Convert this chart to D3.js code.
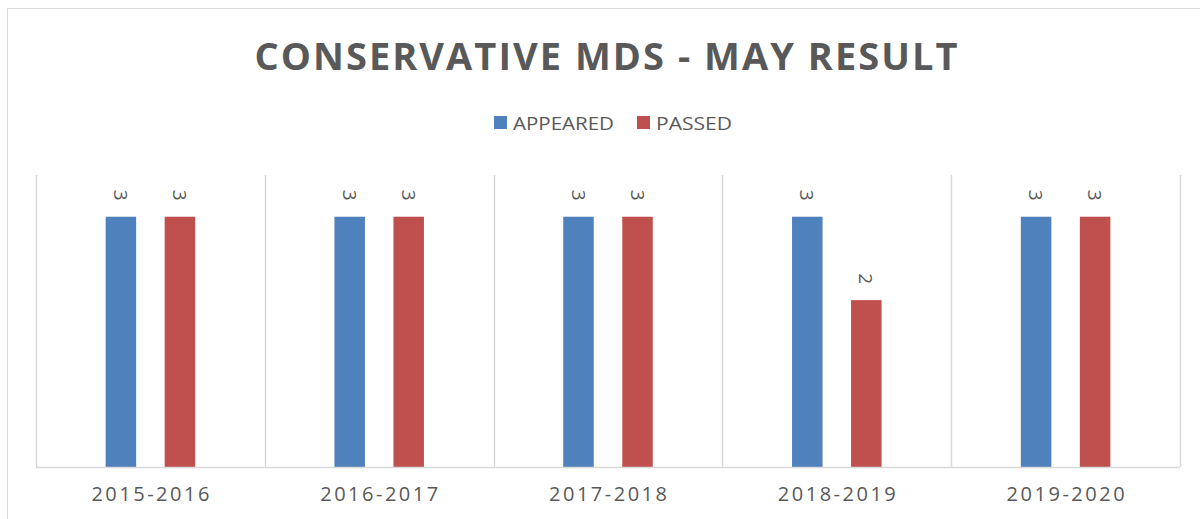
<!DOCTYPE html>
<html>
<head>
<meta charset="utf-8">
<script src="https://cdn.jsdelivr.net/npm/d3@7"></script>
<style>
  body { margin: 0; background: #fff; }
  text { font-family: "Open Sans", sans-serif; fill: #595959; }
</style>
</head>
<body>
<div id="chart"></div>
<script>
// data
var years = ["2015-2016", "2016-2017", "2017-2018", "2018-2019", "2019-2020"];
var series = ["APPEARED", "PASSED"];
var appeared = [3, 3, 3, 3, 3];
var passed = [3, 3, 3, 2, 3];
var colors = ["#4f81bd", "#c0504d"];

var svgWidth = 1200;
var svgHeight = 519;

var plot = { left: 36, right: 1180, top: 175, bottom: 467 };

var svg = d3.select("#chart")
    .append("svg")
    .attr("width", svgWidth)
    .attr("height", svgHeight);

// outer chart border (runs off the right and bottom)
svg.append("rect")
    .attr("x", 7.5)
    .attr("y", 8.5)
    .attr("width", 1300)
    .attr("height", 600)
    .attr("fill", "none")
    .attr("stroke", "#d9d9d9");

var xScale = d3.scaleBand()
    .domain(years)
    .range([plot.left, plot.right])
    .paddingInner(0)
    .paddingOuter(0);

var xInner = d3.scaleBand()
    .domain(series)
    .range([0, xScale.bandwidth()])
    .paddingInner(0.483)
    .paddingOuter(1.18);

var yScale = d3.scaleLinear()
    .domain([0, 3.5])
    .range([plot.bottom, plot.top]);

// vertical separators between categories
var edges = years.map(function (d) { return xScale(d); }).concat([plot.right]);
svg.append("g")
    .selectAll("line")
    .data(edges)
    .enter().append("line")
    .attr("x1", function (d) { return Math.round(d) + 0.5; })
    .attr("x2", function (d) { return Math.round(d) + 0.5; })
    .attr("y1", plot.top)
    .attr("y2", plot.bottom)
    .attr("stroke", "#d9d9d9")
    .attr("stroke-width", 1.5);

// bars
var rows = years.map(function (y, i) {
    return { year: y, values: [appeared[i], passed[i]] };
});

var groups = svg.append("g")
    .selectAll("g")
    .data(rows)
    .enter().append("g")
    .attr("transform", function (d) { return "translate(" + xScale(d.year) + ",0)"; });

groups.selectAll("rect")
    .data(function (d) { return d.values.map(function (v, j) { return { s: series[j], v: v, j: j }; }); })
    .enter().append("rect")
    .attr("x", function (d) { return xInner(d.s); })
    .attr("y", function (d) { return yScale(d.v); })
    .attr("width", xInner.bandwidth())
    .attr("height", function (d) { return yScale(0) - yScale(d.v); })
    .attr("fill", function (d) { return colors[d.j]; });

// rotated value labels
groups.selectAll("text")
    .data(function (d) { return d.values.map(function (v, j) { return { s: series[j], v: v }; }); })
    .enter().append("text")
    .attr("transform", function (d) {
        return "translate(" + (xInner(d.s) + xInner.bandwidth() / 2) + "," + (yScale(d.v) - 16) + ") rotate(90)";
    })
    .attr("text-anchor", "end")
    .attr("dy", "0.36em")
    .style("font-size", "19px")
    .text(function (d) { return d.v; });

// baseline
svg.append("line")
    .attr("x1", plot.left)
    .attr("x2", plot.right)
    .attr("y1", plot.bottom + 0.5)
    .attr("y2", plot.bottom + 0.5)
    .attr("stroke", "#d9d9d9")
    .attr("stroke-width", 1.5);

// x axis labels
var xAxis = svg.append("g")
    .attr("transform", "translate(0," + plot.bottom + ")")
    .call(d3.axisBottom(xScale).tickSize(0).tickPadding(20));
xAxis.select(".domain").remove();
xAxis.selectAll("text")
    .style("font-size", "20px")
    .style("font-family", "'Open Sans', sans-serif")
    .attr("fill", "#595959")
    .attr("textLength", 118)
    .attr("lengthAdjust", "spacing");

// title
svg.append("text")
    .attr("x", 606)
    .attr("y", 70)
    .attr("text-anchor", "middle")
    .style("font-size", "38px")
    .style("font-weight", "bold")
    .attr("textLength", 703)
    .attr("lengthAdjust", "spacing")
    .text("CONSERVATIVE MDS - MAY RESULT");

// legend
var legendX = [494, 637];
var legend = svg.append("g");
series.forEach(function (s, i) {
    legend.append("rect")
        .attr("x", legendX[i])
        .attr("y", 116)
        .attr("width", 13)
        .attr("height", 13)
        .attr("fill", colors[i]);
    legend.append("text")
        .attr("x", legendX[i] + 19)
        .attr("y", 130)
        .style("font-size", "19px")
        .attr("textLength", i === 0 ? 101 : 76)
        .attr("lengthAdjust", "spacingAndGlyphs")
        .text(s);
});
</script>
</body>
</html>
